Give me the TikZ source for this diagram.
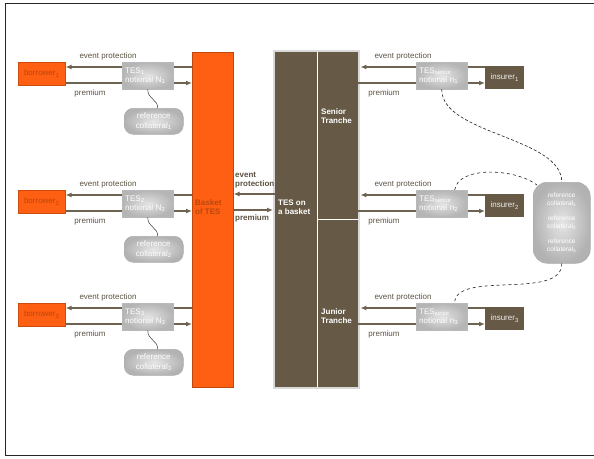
\documentclass[tikz,border=0pt]{standalone}
\usepackage{fontspec}
\setmainfont{Liberation Sans}
\usepackage{tikz}
\usetikzlibrary{arrows.meta}

\definecolor{tesorange}{HTML}{FF5F12}
\definecolor{tesbrown}{HTML}{665A46}
\definecolor{flowcol}{HTML}{6E6350}
\definecolor{lblcol}{HTML}{5C5242}
\definecolor{borrtxt}{HTML}{B9470F}

\newcommand{\diagfont}{\fontsize{8}{9.5}\selectfont}
\newcommand{\smallfont}{\fontsize{6.5}{8}\selectfont}

\tikzset{
  corner/.style={anchor=north west, inner sep=0pt},
  borrbox/.style={corner, fill=tesorange, draw=tesorange!80!black, line width=0.5pt,
    minimum width=47pt, minimum height=23pt, text=borrtxt, font=\diagfont},
  insbox/.style={corner, fill=tesbrown, minimum width=39pt, minimum height=23pt,
    text=white!88!tesbrown, font=\diagfont},
  tesbox/.style={corner, inner color=gray!22, outer color=gray!58, draw=gray!55,
    line width=0.4pt, minimum width=51pt, minimum height=27pt, text width=45pt,
    align=left, inner xsep=3pt, text=white, font=\diagfont},
  collbox/.style={corner, rounded corners=9pt, inner color=gray!20, outer color=gray!60,
    draw=gray!65, line width=0.5pt, minimum width=59pt, minimum height=26pt,
    align=center, text=white, font=\diagfont},
  flow/.style={draw=flowcol, line width=1.2pt, -{Latex[length=6pt,width=5pt]}},
  lbl/.style={text=lblcol, font=\diagfont, inner sep=0pt},
  inlbl/.style={anchor=west, align=left, inner sep=0pt, font=\diagfont\bfseries},
  tie/.style={draw=gray!45!black, line width=0.5pt},
  link/.style={draw=gray!25!black, line width=0.6pt, dashed},
}

\begin{document}
\begin{tikzpicture}[x=1pt,y=-1pt]
  \useasboundingbox (0,0) rectangle (594,458);

  % Outer frame
  \draw[gray!30!black, line width=0.8pt] (594,3) -- (5,3) -- (5,455) -- (594,455);

  % Basket of TES
  \node[corner, fill=tesorange, draw=tesorange!75!black, line width=0.6pt,
    minimum width=41pt, minimum height=335pt] (basket) at (192,52) {};
  \node[inlbl, text=borrtxt] (baskettxt) at (195,207) {Basket\\of TES};

  % TES on a basket and its tranches
  \fill[gray!30] (273,50) rectangle (360,389);
  \node[corner, fill=tesbrown, minimum width=42pt, minimum height=335pt] (pool) at (275,52) {};
  \node[corner, fill=tesbrown, minimum width=41pt, minimum height=167pt] (senior) at (317,52) {};
  \node[corner, fill=tesbrown, minimum width=41pt, minimum height=168pt] (junior) at (317,219) {};
  \draw[white, line width=1pt] (senior.north west) -- (junior.south west);
  \draw[white, line width=1pt] (senior.south west) -- (senior.south east);
  \node[inlbl, text=white] (pooltxt) at (278,207) {TES on\\a basket};
  \node[inlbl, text=white] (seniortxt) at (321,116) {Senior\\Tranche};
  \node[inlbl, text=white] (juniortxt) at (321,316) {Junior\\Tranche};

  % Borrowers
  \node[borrbox] (borr1) at (18,62) {borrower\textsubscript{1}};
  \node[borrbox] (borr2) at (18,190) {borrower\textsubscript{2}};
  \node[borrbox] (borr3) at (18,303) {borrower\textsubscript{3}};

  % Insurers
  \node[insbox] (ins1) at (485,66) {insurer\textsubscript{1}};
  \node[insbox] (ins2) at (485,194) {insurer\textsubscript{2}};
  \node[insbox] (ins3) at (485,307) {insurer\textsubscript{3}};

  % Heights of the flows
  \coordinate (ev1) at (0,67);
  \coordinate (pr1) at (0,83);
  \coordinate (ev2) at (0,195);
  \coordinate (pr2) at (0,211);
  \coordinate (ev3) at (0,308);
  \coordinate (pr3) at (0,324);
  \coordinate (evM) at (0,194);
  \coordinate (prM) at (0,210);

  % Flows between borrowers and basket
  \draw[flow] (basket.west |- ev1) -- (borr1.east |- ev1);
  \draw[flow] (borr1.east |- pr1) -- (basket.west |- pr1);
  \draw[flow] (basket.west |- ev2) -- (borr2.east |- ev2);
  \draw[flow] (borr2.east |- pr2) -- (basket.west |- pr2);
  \draw[flow] (basket.west |- ev3) -- (borr3.east |- ev3);
  \draw[flow] (borr3.east |- pr3) -- (basket.west |- pr3);

  % Flows between basket and TES on a basket
  \draw[flow] (pool.west |- evM) -- (basket.east |- evM);
  \draw[flow, shorten >=2pt] (basket.east |- prM) -- (pool.west |- prM);

  % Flows between tranches and insurers
  \draw[flow, shorten >=2pt] (ins1.west |- ev1) -- (senior.east |- ev1);
  \draw[flow] (senior.east |- pr1) -- (ins1.west |- pr1);
  \draw[flow, shorten >=2pt] (ins2.west |- ev2) -- (senior.east |- ev2);
  \draw[flow] (senior.east |- pr2) -- (ins2.west |- pr2);
  \draw[flow, shorten >=2pt] (ins3.west |- ev3) -- (junior.east |- ev3);
  \draw[flow] (junior.east |- pr3) -- (ins3.west |- pr3);

  % TES contracts
  \node[tesbox] (tesL1) at (122,62) {TES\textsubscript{1}\\notional N\textsubscript{1}};
  \node[tesbox] (tesL2) at (122,190) {TES\textsubscript{2}\\notional N\textsubscript{2}};
  \node[tesbox] (tesL3) at (122,303) {TES\textsubscript{3}\\notional N\textsubscript{3}};
  \node[tesbox] (tesR1) at (416,62) {TES\textsubscript{senior}\\notional n\textsubscript{1}};
  \node[tesbox] (tesR2) at (416,190) {TES\textsubscript{senior}\\notional n\textsubscript{2}};
  \node[tesbox] (tesR3) at (416,303) {TES\textsubscript{junior}\\notional n\textsubscript{3}};

  % Reference collaterals
  \node[collbox] (refL1) at (124,108) {reference\\collateral\textsubscript{1}};
  \node[collbox] (refL2) at (124,236) {reference\\collateral\textsubscript{2}};
  \node[collbox] (refL3) at (124,349) {reference\\collateral\textsubscript{3}};
  \node[collbox, rounded corners=14pt, minimum width=57pt, minimum height=81pt,
    font=\smallfont] (coll) at (533,182)
    {reference\\collateral\textsubscript{1}\\[7pt]reference\\collateral\textsubscript{2}\\[7pt]reference\\collateral\textsubscript{3}};

  % Ties to the collaterals
  \draw[tie] (tesL1.south) .. controls +(0,10) and +(0,-9) .. ([xshift=4pt]refL1.north);
  \draw[tie] (tesL2.south) .. controls +(0,10) and +(0,-9) .. ([xshift=4pt]refL2.north);
  \draw[tie] (tesL3.south) .. controls +(0,10) and +(0,-9) .. ([xshift=4pt]refL3.north);
  \draw[link, densely dashed] (tesR1.south) .. controls +(0,45) and +(0,-45) .. (coll.north);
  \draw[link] ([xshift=13pt]tesR2.north) .. controls +(3,-24) and +(-22,-17) .. ([xshift=4pt,yshift=-3pt]coll.north west);
  \draw[link] (coll.south) .. controls +(1,37) and +(0,-33) .. ([xshift=13pt]tesR3.north);

  % Labels
  \node[lbl] (evL1) at (108,56) {event protection};
  \node[lbl] (prL1) at (90,93) {premium};
  \node[lbl] (evL2) at (108,184) {event protection};
  \node[lbl] (prL2) at (90,221) {premium};
  \node[lbl] (evL3) at (108,297) {event protection};
  \node[lbl] (prL3) at (90,334) {premium};
  \node[lbl] (evR1) at (403,56) {event protection};
  \node[lbl] (prR1) at (384,93) {premium};
  \node[lbl] (evR2) at (403,184) {event protection};
  \node[lbl] (prR2) at (384,221) {premium};
  \node[lbl] (evR3) at (403,297) {event protection};
  \node[lbl] (prR3) at (384,334) {premium};
  \node[inlbl, text=lblcol] (evM) at (235,180) {event\\protection};
  \node[inlbl, text=lblcol] (prM) at (235,218) {premium};
\end{tikzpicture}
\end{document}
